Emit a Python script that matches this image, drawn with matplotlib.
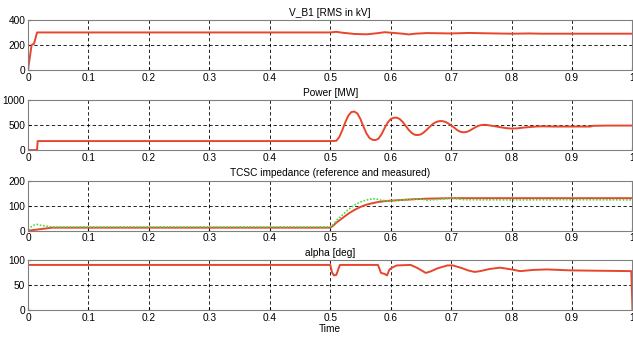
import matplotlib.pyplot as plt

plt.rcParams["font.family"] = ["Liberation Sans", "DejaVu Sans"]
plt.rcParams["font.size"] = 7.3

# V_B1 [RMS in kV]
t_v = [0, 0.003, 0.006, 0.01, 0.015, 0.5, 0.51, 0.52, 0.54, 0.56, 0.58, 0.59, 0.6,
       0.62, 0.63, 0.64, 0.66, 0.7, 0.73, 0.76, 0.8, 0.83, 0.85, 1.0]
v_b1 = [0, 100, 200, 210, 300, 300, 305, 298, 288, 285, 295, 302, 298,
        290, 284, 290, 295, 292, 296, 293, 290, 292, 290, 290]

# Power [MW]
t_p = [0, 0.015, 0.016, 0.5, 0.51, 0.515, 0.52, 0.525, 0.53, 0.535, 0.54, 0.545,
       0.55, 0.555, 0.56, 0.565, 0.57, 0.575, 0.58, 0.585, 0.59, 0.595, 0.6, 0.605,
       0.61, 0.615, 0.62, 0.625, 0.63, 0.635, 0.64, 0.645, 0.65, 0.655, 0.66, 0.665,
       0.67, 0.675, 0.68, 0.685, 0.69, 0.695, 0.7, 0.705, 0.71, 0.715, 0.72, 0.725,
       0.73, 0.735, 0.74, 0.745, 0.75, 0.755, 0.76, 0.77, 0.78, 0.79, 0.8, 0.81,
       0.82, 0.83, 0.84, 0.85, 0.87, 0.9, 0.93, 0.935, 0.96, 1.0]
power = [0, 0, 180, 180, 185, 260, 400, 560, 690, 760, 770, 730,
         620, 470, 330, 240, 205, 200, 230, 320, 440, 550, 620, 645,
         648, 620, 560, 480, 400, 340, 305, 300, 315, 355, 410, 470,
         525, 560, 578, 580, 565, 535, 495, 450, 400, 368, 355, 360,
         385, 420, 455, 485, 500, 505, 500, 480, 460, 440, 430, 435,
         450, 460, 470, 475, 470, 470, 470, 485, 490, 490]

# TCSC impedance (reference and measured)
t_zm = [0, 0.01, 0.02, 0.03, 0.04, 0.5, 0.505, 0.51, 0.52, 0.53, 0.54, 0.55, 0.56,
        0.57, 0.58, 0.59, 0.6, 0.62, 0.64, 0.66, 0.7, 1.0]
z_meas = [0, 3, 6, 9, 12, 12, 20, 32, 50, 68, 83, 95, 104,
          110, 115, 118, 120, 123, 126, 128, 130, 130]
t_zr = [0, 0.005, 0.01, 0.015, 0.02, 0.03, 0.04, 0.5, 0.505, 0.51, 0.52, 0.53, 0.54,
        0.55, 0.56, 0.57, 0.575, 0.58, 0.59, 0.6, 0.62, 0.65, 0.66, 0.68, 0.7, 0.72,
        0.8, 0.9, 1.0]
z_ref = [5, 15, 22, 25, 22, 18, 15, 15, 25, 40, 62, 85, 102,
         115, 123, 127, 128, 124, 120, 119, 123, 127, 122, 125, 130, 124,
         123, 124, 123]

# alpha [deg]
t_a = [0, 0.5, 0.503, 0.506, 0.51, 0.513, 0.516, 0.579, 0.584, 0.59, 0.594,
       0.598, 0.603, 0.61, 0.633, 0.644, 0.658, 0.666, 0.677, 0.694, 0.703,
       0.717, 0.728, 0.739, 0.748, 0.764, 0.781, 0.8, 0.814, 0.836, 0.858,
       0.9, 0.998, 1.0]
alpha = [90, 90, 75, 69, 70, 80, 90, 90, 74, 72, 69,
         81, 85, 89, 90, 84, 74, 77, 83, 89, 89,
         84, 79, 76, 77.6, 82, 84.5, 81, 77.6, 80, 81,
         79, 77.6, 0]

titles = ["V_B1 [RMS in kV]", "Power [MW]",
          "TCSC impedance (reference and measured)", "alpha [deg]"]
ylims = [(0, 400), (0, 1000), (0, 200), (0, 100)]
yticks = [[0, 200, 400], [0, 500, 1000], [0, 100, 200], [0, 50, 100]]
xticks = [0, 0.1, 0.2, 0.3, 0.4, 0.5, 0.6, 0.7, 0.8, 0.9, 1]
xticklabels = ["0", "0.1", "0.2", "0.3", "0.4", "0.5", "0.6", "0.7", "0.8", "0.9", "1"]

RED = "#e8462c"
GREEN = "#44e044"

fig = plt.figure(figsize=(6.33, 3.38), dpi=100)
bottoms = [0.793, 0.556, 0.3175, 0.083]
axes = [fig.add_axes([0.0442, b, 0.955, 0.148]) for b in bottoms]

axes[0].plot(t_v, v_b1, color=RED, lw=1.4)
axes[1].plot(t_p, power, color=RED, lw=1.4)
axes[2].plot(t_zm, z_meas, color=RED, lw=1.4)
axes[2].plot(t_zr, z_ref, color=GREEN, lw=1.2, ls=(0, (1, 1)))
axes[3].plot(t_a, alpha, color=RED, lw=1.4)

for ax, title, yl, yt in zip(axes, titles, ylims, yticks):
    ax.set_xlim(0, 1)
    ax.set_ylim(*yl)
    ax.set_yticks(yt)
    ax.set_xticks(xticks)
    ax.set_xticklabels(xticklabels)
    ax.set_title(title, fontsize=7.3, pad=3)
    ax.grid(True, color="black", ls=(0, (4, 3)), lw=0.6)
    ax.tick_params(direction="in", length=2, pad=2, labelsize=7.3)
    for s in ax.spines.values():
        s.set_color("#808080")
        s.set_linewidth(0.8)
    ax.set_axisbelow(True)

axes[3].set_xlabel("Time", fontsize=7.3, labelpad=1)

fig.savefig("out.png", dpi=100)
